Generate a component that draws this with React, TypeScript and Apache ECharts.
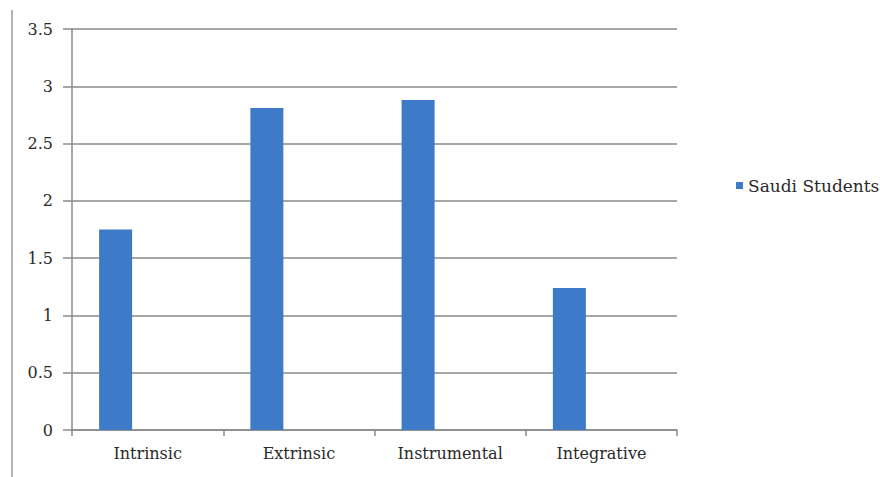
import React, { useEffect, useRef } from "react";
import * as echarts from "echarts";

const categories = ["Intrinsic", "Extrinsic", "Instrumental", "Integrative"];
const saudiStudents = [1.75, 2.81, 2.88, 1.24];
const emptySlot = [null, null, null, null];
const seriesName = "Saudi Students";
const barColor = "#3d7bc8";

export default function App() {
  const ref = useRef<HTMLDivElement>(null);
  useEffect(() => {
    if (!ref.current) return;
    const chart = echarts.init(ref.current, undefined, { renderer: "svg" });
    const font = "DejaVu Serif";
    const gray = "#8a8a8a";
    chart.setOption({
      animation: false,
      backgroundColor: "#ffffff",
      textStyle: { fontFamily: font },
      grid: { left: 72, right: 203, top: 29, bottom: 47, containLabel: false },
      legend: {
        data: [seriesName],
        left: 731,
        top: 172,
        icon: "rect",
        itemWidth: 7,
        itemHeight: 7,
        itemGap: 4,
        textStyle: { fontFamily: font, fontSize: 17, color: "#2a2a2a" },
      },
      xAxis: {
        type: "category",
        data: categories,
        axisLine: { lineStyle: { color: gray, width: 1.5 } },
        axisTick: { show: true, length: 6, lineStyle: { color: gray, width: 1.5 } },
        axisLabel: { fontFamily: font, fontSize: 16, color: "#2a2a2a", margin: 15 },
      },
      yAxis: {
        type: "value",
        min: 0,
        max: 3.5,
        interval: 0.5,
        axisLine: { show: true, lineStyle: { color: gray, width: 1.5 } },
        axisTick: { show: true, length: 9, lineStyle: { color: gray, width: 1.5 } },
        splitLine: { show: true, lineStyle: { color: gray, width: 1.5 } },
        axisLabel: { fontFamily: font, fontSize: 16, color: "#2a2a2a", margin: 19 },
      },
      series: [
        {
          name: seriesName,
          type: "bar",
          data: saudiStudents,
          barWidth: 33,
          barGap: "94%",
          itemStyle: { color: barColor },
        },
        {
          name: "blank",
          type: "bar",
          data: emptySlot,
          barWidth: 33,
          barGap: "94%",
          itemStyle: { color: "transparent" },
        },
      ],
      graphic: [
        {
          type: "line",
          shape: { x1: 12, y1: 10, x2: 12, y2: 477 },
          style: { stroke: "#9a9a9a", lineWidth: 1.5 },
        },
      ],
    });
    return () => chart.dispose();
  }, []);
  return <div ref={ref} style={{ width: 880, height: 477, position: "absolute", left: 0, top: 0 }} />;
}
